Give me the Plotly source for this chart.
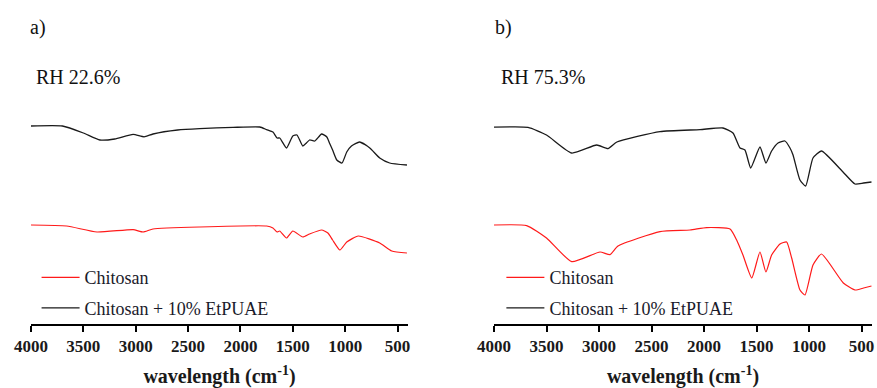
import plotly.graph_objects as go

# Wavenumbers (cm^-1) and transmittance (arbitrary units, offset spectra)
a_black_wn = [4000, 3700, 3500, 3342, 3200, 3025, 2920, 2835, 2600, 2390, 2070, 1815, 1750, 1690, 1650, 1625,
              1560, 1500, 1460, 1405, 1370, 1340, 1290, 1225, 1175, 1150, 1120, 1080, 1030, 985, 940, 862,
              765, 670, 575, 410]
a_black_t = [99, 99, 95.5, 92, 92.5, 94.8, 93.6, 95, 97, 97.7, 98.3, 98.5, 97.2, 96, 93, 93,
             88, 94, 94.5, 89, 90.5, 92, 91.5, 95, 93.5, 90.5, 87, 82, 80.5, 86, 89, 91,
             88, 83, 80.5, 79.5]

a_red_wn = [4000, 3660, 3370, 3025, 2930, 2835, 2390, 1750, 1690, 1650, 1625, 1560, 1500, 1405, 1340,
            1225, 1165, 1120, 1050, 985, 875, 670, 555, 410]
a_red_t = [49.5, 49, 46, 47.2, 46, 47.5, 48.5, 49, 48, 46, 46.5, 43, 46.5, 43.5, 45,
           47, 45.5, 42, 37, 41, 44, 40.5, 36.5, 35.5]

b_black_wn = [4000, 3676, 3500, 3260, 3022, 2914, 2830, 2419, 2038, 1819, 1724, 1657, 1610, 1555, 1467,
              1410, 1356, 1295, 1229, 1181, 1152, 1086, 1032, 962, 881, 676, 562, 480, 405]
b_black_t = [98.4, 98.3, 94.5, 85.5, 89.5, 87.7, 91, 96.2, 97.2, 98, 95.5, 88, 87, 78, 88.5,
             80.5, 86.5, 90.5, 91.5, 88, 84.5, 72, 69, 83, 86.5, 76, 70, 70.5, 71]

b_red_wn = [4000, 3689, 3500, 3260, 2990, 2895, 2819, 2419, 2133, 1975, 1752, 1689, 1629, 1545, 1467,
            1410, 1356, 1276, 1213, 1165, 1086, 1038, 962, 881, 673, 562, 480, 405]
b_red_t = [49.5, 49.2, 43, 31.2, 36, 34.7, 39, 46.2, 47, 48.2, 47.5, 42, 34.5, 23, 36,
           26, 34.5, 40, 41, 33, 17, 14.5, 29.5, 35, 20.5, 17, 18, 19]

tick_vals = [4000, 3500, 3000, 2500, 2000, 1500, 1000, 500]
series_names = ["Chitosan", "Chitosan + 10% EtPUAE"]
panel_labels = ["a)", "b)"]
rh_labels = ["RH 22.6%", "RH 75.3%"]

RED = "#ff1a1a"
BLACK = "#1a1a1a"
SERIF = "Liberation Serif"

fig = go.Figure()
panels = [
    (a_red_wn, a_red_t, a_black_wn, a_black_t, "x", "y", "legend"),
    (b_red_wn, b_red_t, b_black_wn, b_black_t, "x2", "y2", "legend2"),
]
for rwn, rt, bwn, bt, xa, ya, lg in panels:
    fig.add_trace(go.Scatter(x=rwn, y=rt, mode="lines", name=series_names[0], legendgroup="r",
                             line=dict(color=RED, width=1.2, shape="spline", smoothing=0.5),
                             xaxis=xa, yaxis=ya, legend=lg))
    fig.add_trace(go.Scatter(x=bwn, y=bt, mode="lines", name=series_names[1], legendgroup="k",
                             line=dict(color=BLACK, width=1.3, shape="spline", smoothing=0.5),
                             xaxis=xa, yaxis=ya, legend=lg))

xcommon = dict(range=[4000, 400], tickvals=tick_vals, showline=True, linecolor="black", linewidth=2,
               ticks="outside", ticklen=6, tickwidth=2, tickcolor="black", showgrid=False, zeroline=False,
               automargin=False,
               tickfont=dict(family=SERIF, size=17, color="#1a1a1a", weight="bold"),
               title=dict(text="wavelength (cm<sup>-1</sup>)", standoff=14,
                          font=dict(family=SERIF, size=20, color="#1a1a1a", weight="bold")))
ycommon = dict(range=[0, 162], visible=False, showgrid=False, zeroline=False, automargin=False)

legcommon = dict(font=dict(family=SERIF, size=18, color="#1a1a2a"), bgcolor="rgba(0,0,0,0)",
                 traceorder="grouped", tracegroupgap=4, itemwidth=38,
                 yanchor="top", xanchor="left")

fig.update_layout(
    width=877, height=388,
    margin=dict(l=0, r=0, t=0, b=64, autoexpand=False),
    paper_bgcolor="white", plot_bgcolor="white",
    xaxis=dict(domain=[31 / 877, 408 / 877], anchor="y", **xcommon),
    xaxis2=dict(domain=[494 / 877, 872 / 877], anchor="y2", **xcommon),
    yaxis=dict(domain=[0, 1], anchor="x", **ycommon),
    yaxis2=dict(domain=[0, 1], anchor="x2", **ycommon),
    legend=dict(x=0.0417, y=0.2, **legcommon),
    legend2=dict(x=0.5717, y=0.2, **legcommon),
    showlegend=True,
)

for i in range(2):
    fig.add_annotation(text=panel_labels[i], xref="paper", yref="paper",
                       x=[28 / 877, 493 / 877][i], y=1 - 27 / 324, xanchor="left", yanchor="middle",
                       showarrow=False, font=dict(family=SERIF, size=20, color="#111"))
    fig.add_annotation(text=rh_labels[i], xref="paper", yref="paper",
                       x=[34 / 877, 499 / 877][i], y=1 - 77 / 324, xanchor="left", yanchor="middle",
                       showarrow=False, font=dict(family=SERIF, size=20, color="#111"))

fig.write_html("out.html")
